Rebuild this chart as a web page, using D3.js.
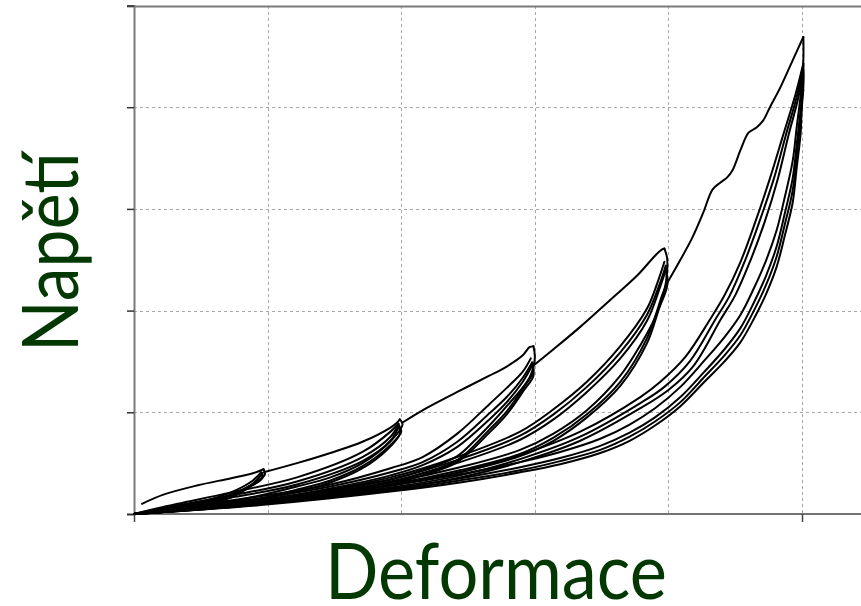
<!DOCTYPE html>
<html>
<head>
<meta charset="utf-8">
<script src="https://cdn.jsdelivr.net/npm/d3@7"></script>
<style>
  html, body { margin: 0; padding: 0; background: #fff; }
  svg { display: block; }
</style>
</head>
<body>
<svg id="chart" width="861" height="606"></svg>
<script>
// Stress–strain hysteresis: loading to five strain levels with repeated cycles.
// Each series is a list of [strain, stress] pairs in grid units.

const xTicks = [0, 1, 2, 3, 4, 5];
const yTicks = [0, 1, 2, 3, 4, 5];
const xMajor = [0, 5];

// virgin loading branches (envelope)
const virgin1 = [[0.06,0.10],[0.22,0.19],[0.47,0.28],[0.72,0.35],[0.89,0.40],[0.97,0.44]];
const virgin2 = [[0.97,0.41],[1.22,0.50],[1.47,0.60],[1.71,0.71],[1.92,0.85],[1.97,0.90],[1.99,0.93]];
const virgin3 = [[2.01,0.90],[2.16,1.02],[2.42,1.20],[2.66,1.36],[2.79,1.45],[2.91,1.56],[2.96,1.64],[2.99,1.65]];
const virgin4 = [[2.99,1.46],[3.14,1.62],[3.34,1.84],[3.56,2.10],[3.77,2.35],[3.90,2.54],[3.95,2.60],[3.97,2.61]];
const virgin5 = [[3.99,2.27],[4.09,2.50],[4.18,2.72],[4.26,2.96],[4.33,3.19],[4.39,3.26],[4.44,3.31],[4.48,3.38],[4.54,3.58],[4.60,3.75],[4.66,3.80],[4.71,3.87],[4.76,4.00],[4.84,4.20],[4.93,4.46],[5.01,4.69]];

// level 1 cycles
const reload1a = [[0,0],[0.22,0.05],[0.47,0.11],[0.72,0.21],[0.89,0.33],[0.95,0.41]];
const reload1b = [[0,0],[0.22,0.04],[0.47,0.10],[0.72,0.19],[0.89,0.30],[0.96,0.40]];
const unload1a = [[0.97,0.44],[0.98,0.39],[0.92,0.32],[0.79,0.22],[0.59,0.12],[0.34,0.06],[0.10,0.02],[0,0]];
const unload1b = [[0.95,0.41],[0.96,0.36],[0.88,0.28],[0.72,0.17],[0.47,0.08],[0.22,0.03],[0,0]];
const unload1c = [[0.96,0.40],[0.96,0.35],[0.86,0.26],[0.72,0.16],[0.47,0.07],[0.22,0.02],[0,0]];

// level 2 cycles
const reload2a = [[0,0],[0.22,0.07],[0.72,0.21],[1.22,0.36],[1.71,0.61],[1.92,0.81],[1.98,0.89]];
const reload2b = [[0,0],[0.22,0.06],[0.72,0.18],[1.22,0.32],[1.71,0.56],[1.92,0.76],[1.98,0.88]];
const reload2c = [[0,0],[0.22,0.05],[0.72,0.16],[1.22,0.29],[1.71,0.52],[1.92,0.72],[1.98,0.86]];
const unload2a = [[1.99,0.93],[2.01,0.88],[1.93,0.73],[1.71,0.50],[1.47,0.36],[1.22,0.27],[0.97,0.19],[0.72,0.12],[0.47,0.07],[0.22,0.02],[0,0]];
const unload2b = [[1.98,0.88],[2.00,0.81],[1.92,0.68],[1.71,0.47],[1.47,0.33],[1.22,0.24],[0.97,0.16],[0.72,0.10],[0.22,0.02],[0,0]];
const unload2c = [[1.98,0.86],[1.99,0.79],[1.90,0.64],[1.71,0.45],[1.47,0.31],[1.22,0.22],[0.97,0.15],[0.72,0.09],[0.22,0.02],[0,0]];

// level 3 cycles
const reload3a = [[0,0],[0.97,0.18],[1.47,0.29],[1.92,0.45],[2.16,0.56],[2.42,0.79],[2.66,1.08],[2.79,1.24],[2.91,1.40],[2.97,1.53]];
const reload3b = [[0,0],[0.97,0.16],[1.47,0.27],[1.92,0.41],[2.16,0.51],[2.42,0.71],[2.66,0.99],[2.79,1.15],[2.91,1.34],[2.98,1.49]];
const reload3c = [[0,0],[0.97,0.14],[1.47,0.25],[1.92,0.38],[2.16,0.48],[2.42,0.66],[2.66,0.93],[2.79,1.10],[2.91,1.30],[2.98,1.46]];
const unload3a = [[2.99,1.65],[3.00,1.53],[2.96,1.34],[2.79,1.06],[2.66,0.87],[2.54,0.71],[2.42,0.57],[2.16,0.43],[1.92,0.34],[1.47,0.24],[0.97,0.13],[0,0]];
const unload3b = [[2.98,1.49],[2.99,1.40],[2.93,1.27],[2.79,1.01],[2.66,0.83],[2.42,0.53],[2.16,0.40],[1.92,0.31],[1.47,0.21],[0.97,0.11],[0,0]];
const unload3c = [[2.98,1.46],[2.99,1.36],[2.92,1.22],[2.79,0.98],[2.66,0.80],[2.42,0.51],[2.16,0.38],[1.92,0.29],[1.47,0.20],[0.97,0.10],[0,0]];

// level 4 cycles
const reload4a = [[0,0],[0.97,0.14],[1.92,0.36],[2.44,0.57],[2.89,0.81],[3.14,1.03],[3.39,1.30],[3.64,1.65],[3.84,2.02],[3.93,2.32],[3.97,2.48]];
const reload4b = [[0,0],[0.97,0.13],[1.92,0.34],[2.44,0.54],[2.89,0.77],[3.14,0.98],[3.39,1.25],[3.64,1.59],[3.84,1.96],[3.94,2.28],[3.98,2.44]];
const reload4c = [[0,0],[0.97,0.12],[1.92,0.32],[2.44,0.51],[2.89,0.73],[3.14,0.93],[3.39,1.20],[3.64,1.53],[3.84,1.90],[3.94,2.24],[3.98,2.40]];
const unload4a = [[3.97,2.61],[3.99,2.52],[3.99,2.38],[3.97,2.20],[3.90,1.93],[3.79,1.66],[3.64,1.36],[3.39,1.02],[3.14,0.79],[2.89,0.63],[2.44,0.46],[1.92,0.31],[0.97,0.12],[0,0]];
const unload4b = [[3.98,2.44],[3.99,2.30],[3.95,2.14],[3.84,1.73],[3.64,1.30],[3.39,0.98],[3.14,0.75],[2.89,0.59],[2.44,0.43],[1.92,0.29],[0.97,0.11],[0,0]];
const unload4c = [[3.98,2.40],[3.99,2.24],[3.93,2.02],[3.84,1.68],[3.64,1.26],[3.39,0.95],[3.14,0.72],[2.89,0.57],[2.44,0.41],[1.92,0.28],[0.97,0.10],[0,0]];

// level 5 cycles
const reload5a = [[0,0],[0.97,0.12],[1.92,0.28],[2.44,0.41],[2.89,0.58],[3.34,0.81],[3.79,1.15],[3.94,1.30],[4.13,1.55],[4.31,1.91],[4.42,2.15],[4.54,2.48],[4.65,2.87],[4.76,3.30],[4.86,3.73],[4.95,4.12],[5.01,4.43]];
const reload5b = [[0,0],[0.97,0.11],[1.92,0.26],[2.44,0.38],[2.89,0.54],[3.34,0.76],[3.79,1.09],[3.97,1.25],[4.16,1.50],[4.35,1.91],[4.46,2.15],[4.57,2.48],[4.68,2.87],[4.79,3.30],[4.88,3.73],[4.96,4.10],[5.01,4.41]];
const reload5c = [[0,0],[0.97,0.10],[1.92,0.24],[2.44,0.36],[2.89,0.51],[3.34,0.72],[3.79,1.04],[4.00,1.22],[4.19,1.46],[4.39,1.91],[4.50,2.15],[4.61,2.48],[4.72,2.87],[4.82,3.30],[4.90,3.73],[4.97,4.08],[5.01,4.37]];
const unload5a = [[5.01,4.69],[5.01,4.46],[4.99,4.12],[4.96,3.80],[4.93,3.47],[4.87,3.11],[4.81,2.79],[4.73,2.49],[4.64,2.22],[4.54,1.96],[4.42,1.74],[4.27,1.51],[4.09,1.25],[3.90,1.04],[3.71,0.88],[3.49,0.74],[3.19,0.61],[2.89,0.51],[2.44,0.39],[1.92,0.28],[0.97,0.13],[0,0]];
const unload5b = [[5.01,4.43],[5.01,4.27],[4.99,3.98],[4.96,3.63],[4.93,3.30],[4.87,2.95],[4.81,2.63],[4.73,2.34],[4.64,2.08],[4.54,1.83],[4.42,1.62],[4.27,1.40],[4.09,1.15],[3.90,0.95],[3.71,0.80],[3.49,0.67],[3.19,0.55],[2.89,0.46],[2.44,0.35],[1.92,0.25],[0.97,0.11],[0,0]];
const unload5c = [[5.01,4.35],[5.01,4.20],[4.99,3.88],[4.96,3.52],[4.93,3.18],[4.87,2.84],[4.81,2.53],[4.73,2.25],[4.64,2.00],[4.54,1.76],[4.42,1.56],[4.27,1.35],[4.09,1.10],[3.90,0.91],[3.71,0.76],[3.49,0.63],[3.19,0.52],[2.89,0.43],[2.44,0.33],[1.92,0.23],[0.97,0.10],[0,0]];
const unload5d = [[5.01,4.17],[5.00,4.07],[4.99,3.75],[4.96,3.40],[4.93,3.06],[4.87,2.73],[4.81,2.43],[4.73,2.16],[4.64,1.92],[4.54,1.69],[4.42,1.50],[4.27,1.30],[4.09,1.06],[3.90,0.87],[3.71,0.72],[3.49,0.60],[3.19,0.49],[2.89,0.41],[2.44,0.31],[1.92,0.22],[0.97,0.09],[0,0]];

const curves = [
  virgin1, virgin2, virgin3, virgin4, virgin5,
  reload1a, reload1b, unload1a, unload1b, unload1c,
  reload2a, reload2b, reload2c, unload2a, unload2b, unload2c,
  reload3a, reload3b, reload3c, unload3a, unload3b, unload3c,
  reload4a, reload4b, reload4c, unload4a, unload4b, unload4c,
  reload5a, reload5b, reload5c, unload5a, unload5b, unload5c, unload5d
];

const xLabel = "Deformace";
const yLabel = "Napětí";

const svg = d3.select("#chart");
const W = 861;

const x = d3.scaleLinear().domain([0, 5]).range([134, 802]);
const y = d3.scaleLinear().domain([0, 5]).range([514, 5.5]);

// grid
const grid = svg.append("g")
  .attr("stroke", "#a8a8a8")
  .attr("stroke-width", 1)
  .attr("stroke-dasharray", "3,3")
  .attr("shape-rendering", "crispEdges");

grid.selectAll("line.v").data(xTicks.slice(1)).join("line")
  .attr("class", "v")
  .attr("x1", d => Math.round(x(d)) + 0.5).attr("x2", d => Math.round(x(d)) + 0.5)
  .attr("y1", y(5)).attr("y2", y(0));

grid.selectAll("line.h").data(yTicks.slice(1, -1)).join("line")
  .attr("class", "h")
  .attr("x1", x(0)).attr("x2", W)
  .attr("y1", d => Math.round(y(d)) + 0.5).attr("y2", d => Math.round(y(d)) + 0.5);

// top frame line
svg.append("line")
  .attr("x1", x(0) - 7).attr("x2", W)
  .attr("y1", Math.round(y(5)) + 0.5).attr("y2", Math.round(y(5)) + 0.5)
  .attr("stroke", "#7a7a7a").attr("stroke-width", 2);

// y axis
const yAxis = d3.axisLeft(y).tickValues(yTicks).tickSize(7).tickFormat("");
const gy = svg.append("g")
  .attr("transform", `translate(${x(0)},0)`)
  .call(yAxis);
gy.select(".domain").attr("stroke", "#7a7a7a").attr("stroke-width", 2);
gy.selectAll(".tick line").attr("stroke", "#333").attr("stroke-width", 1.5);

// x axis
const xAxis = d3.axisBottom(x).tickValues(xMajor).tickSize(8).tickFormat("");
const gx = svg.append("g")
  .attr("transform", `translate(0,${y(0)})`)
  .call(xAxis);
gx.select(".domain").attr("d", `M${x(0)},0H${W}`).attr("stroke", "#444").attr("stroke-width", 1.5);
gx.selectAll(".tick line").attr("stroke", "#444").attr("stroke-width", 1.5);

// hysteresis curves
const line = d3.line()
  .x(d => x(d[0]))
  .y(d => y(d[1]))
  .curve(d3.curveCatmullRom.alpha(0.5));

svg.append("g")
  .attr("fill", "none")
  .attr("stroke", "#000")
  .attr("stroke-width", 2)
  .attr("stroke-linejoin", "round")
  .attr("stroke-linecap", "round")
  .selectAll("path")
  .data(curves)
  .join("path")
  .attr("d", line);

// axis titles
const titleColor = "#033803";
svg.append("text")
  .attr("x", 496).attr("y", 599)
  .attr("text-anchor", "middle")
  .attr("font-family", "Lato, 'Noto Sans', sans-serif")
  .attr("font-size", 78)
  .attr("fill", titleColor)
  .attr("textLength", 342)
  .attr("lengthAdjust", "spacingAndGlyphs")
  .text(xLabel);

svg.append("text")
  .attr("transform", "translate(78,252) rotate(-90)")
  .attr("text-anchor", "middle")
  .attr("font-family", "Lato, 'Noto Sans', sans-serif")
  .attr("font-size", 78)
  .attr("fill", titleColor)
  .attr("textLength", 200)
  .attr("lengthAdjust", "spacingAndGlyphs")
  .text(yLabel);
</script>
</body>
</html>
